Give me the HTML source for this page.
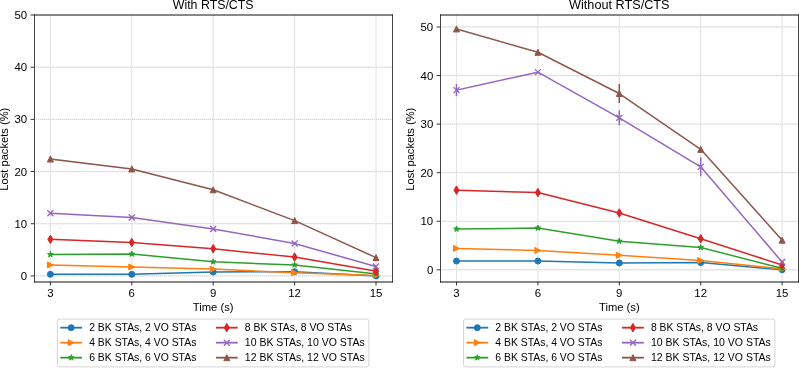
<!DOCTYPE html>
<html><head><meta charset="utf-8"><title>Lost packets: With / Without RTS/CTS</title><style>
html,body{margin:0;padding:0;background:#fff;overflow:hidden}
svg{display:block;will-change:transform}
text{font-family:"Liberation Sans",sans-serif;fill:#000}
</style></head><body>
<svg width="799" height="368" viewBox="0 0 799 368">
<rect width="799" height="368" fill="#fff"/>
<path d="M50.38 15V282M131.79 15V282M213.2 15V282M294.61 15V282M376.02 15V282" fill="none" stroke="#f0f0f0" stroke-width="1.2"/>
<path d="M50.38 15V282M131.79 15V282M213.2 15V282M294.61 15V282M376.02 15V282" fill="none" stroke="#dadada" stroke-width="1" stroke-dasharray="1 1"/>
<path d="M34.1 275.9H392.3M34.1 223.72H392.3M34.1 171.54H392.3M34.1 119.36H392.3M34.1 67.18H392.3" fill="none" stroke="#f0f0f0" stroke-width="1.2"/>
<path d="M34.1 275.9H392.3M34.1 223.72H392.3M34.1 171.54H392.3M34.1 119.36H392.3M34.1 67.18H392.3" fill="none" stroke="#d0d0d0" stroke-width="1" stroke-dasharray="1 1"/>
<polyline points="50.38,274.33 131.79,274.33 213.2,271.98 294.61,271.72 376.02,275.9" fill="none" stroke="#1f77b4" stroke-width="1.5" stroke-linejoin="round" stroke-linecap="square"/>
<circle cx="50.38" cy="274.33" r="3" fill="#1f77b4" stroke="#1f77b4" stroke-width="1.0"/>
<circle cx="131.79" cy="274.33" r="3" fill="#1f77b4" stroke="#1f77b4" stroke-width="1.0"/>
<circle cx="213.2" cy="271.98" r="3" fill="#1f77b4" stroke="#1f77b4" stroke-width="1.0"/>
<circle cx="294.61" cy="271.72" r="3" fill="#1f77b4" stroke="#1f77b4" stroke-width="1.0"/>
<circle cx="376.02" cy="275.9" r="3" fill="#1f77b4" stroke="#1f77b4" stroke-width="1.0"/>
<polyline points="50.38,264.94 131.79,267.02 213.2,269.11 294.61,272.76 376.02,275.37" fill="none" stroke="#ff7f0e" stroke-width="1.5" stroke-linejoin="round" stroke-linecap="square"/>
<path d="M53.38 264.94L47.38 261.94L47.38 267.94Z" fill="#ff7f0e" stroke="#ff7f0e" stroke-width="1.0" stroke-linejoin="miter"/>
<path d="M134.79 267.02L128.79 264.02L128.79 270.02Z" fill="#ff7f0e" stroke="#ff7f0e" stroke-width="1.0" stroke-linejoin="miter"/>
<path d="M216.2 269.11L210.2 266.11L210.2 272.11Z" fill="#ff7f0e" stroke="#ff7f0e" stroke-width="1.0" stroke-linejoin="miter"/>
<path d="M297.61 272.76L291.61 269.76L291.61 275.76Z" fill="#ff7f0e" stroke="#ff7f0e" stroke-width="1.0" stroke-linejoin="miter"/>
<path d="M379.02 275.37L373.02 272.37L373.02 278.37Z" fill="#ff7f0e" stroke="#ff7f0e" stroke-width="1.0" stroke-linejoin="miter"/>
<polyline points="50.38,254.5 131.79,253.98 213.2,261.81 294.61,264.94 376.02,273.81" fill="none" stroke="#2ca02c" stroke-width="1.5" stroke-linejoin="round" stroke-linecap="square"/>
<path d="M50.38 251.5L49.71 253.57L47.53 253.57L49.29 254.86L48.62 256.93L50.38 255.65L52.15 256.93L51.47 254.86L53.23 253.57L51.06 253.57Z" fill="#2ca02c" stroke="#2ca02c" stroke-width="1.0" stroke-linejoin="bevel"/>
<path d="M131.79 250.98L131.12 253.05L128.94 253.05L130.7 254.33L130.03 256.41L131.79 255.13L133.55 256.41L132.88 254.33L134.64 253.05L132.46 253.05Z" fill="#2ca02c" stroke="#2ca02c" stroke-width="1.0" stroke-linejoin="bevel"/>
<path d="M213.2 258.81L212.53 260.88L210.35 260.88L212.11 262.16L211.44 264.23L213.2 262.95L214.96 264.23L214.29 262.16L216.05 260.88L213.87 260.88Z" fill="#2ca02c" stroke="#2ca02c" stroke-width="1.0" stroke-linejoin="bevel"/>
<path d="M294.61 261.94L293.94 264.01L291.76 264.01L293.52 265.29L292.85 267.36L294.61 266.08L296.37 267.36L295.7 265.29L297.46 264.01L295.28 264.01Z" fill="#2ca02c" stroke="#2ca02c" stroke-width="1.0" stroke-linejoin="bevel"/>
<path d="M376.02 270.81L375.34 272.88L373.17 272.88L374.93 274.16L374.25 276.23L376.02 274.95L377.78 276.23L377.11 274.16L378.87 272.88L376.69 272.88Z" fill="#2ca02c" stroke="#2ca02c" stroke-width="1.0" stroke-linejoin="bevel"/>
<polyline points="50.38,239.37 131.79,242.5 213.2,248.76 294.61,257.11 376.02,271.2" fill="none" stroke="#d62728" stroke-width="1.5" stroke-linejoin="round" stroke-linecap="square"/>
<path d="M50.38 243.61L52.93 239.37L50.38 235.13L47.84 239.37Z" fill="#d62728" stroke="#d62728" stroke-width="1.0" stroke-linejoin="miter"/>
<path d="M131.79 246.74L134.34 242.5L131.79 238.26L129.25 242.5Z" fill="#d62728" stroke="#d62728" stroke-width="1.0" stroke-linejoin="miter"/>
<path d="M213.2 253L215.75 248.76L213.2 244.52L210.65 248.76Z" fill="#d62728" stroke="#d62728" stroke-width="1.0" stroke-linejoin="miter"/>
<path d="M294.61 261.35L297.15 257.11L294.61 252.87L292.06 257.11Z" fill="#d62728" stroke="#d62728" stroke-width="1.0" stroke-linejoin="miter"/>
<path d="M376.02 275.44L378.56 271.2L376.02 266.96L373.47 271.2Z" fill="#d62728" stroke="#d62728" stroke-width="1.0" stroke-linejoin="miter"/>
<polyline points="50.38,213.28 131.79,217.45 213.2,228.93 294.61,243.54 376.02,266.5" fill="none" stroke="#9467bd" stroke-width="1.5" stroke-linejoin="round" stroke-linecap="square"/>
<path d="M47.38 216.28L53.38 210.28M47.38 210.28L53.38 216.28" fill="none" stroke="#9467bd" stroke-width="1.3" stroke-linecap="butt"/>
<path d="M128.79 220.45L134.79 214.45M128.79 214.45L134.79 220.45" fill="none" stroke="#9467bd" stroke-width="1.3" stroke-linecap="butt"/>
<path d="M210.2 231.93L216.2 225.93M210.2 225.93L216.2 231.93" fill="none" stroke="#9467bd" stroke-width="1.3" stroke-linecap="butt"/>
<path d="M291.61 246.54L297.61 240.54M291.61 240.54L297.61 246.54" fill="none" stroke="#9467bd" stroke-width="1.3" stroke-linecap="butt"/>
<path d="M373.02 269.5L379.02 263.5M373.02 263.5L379.02 269.5" fill="none" stroke="#9467bd" stroke-width="1.3" stroke-linecap="butt"/>
<polyline points="50.38,159.01 131.79,168.93 213.2,189.8 294.61,220.59 376.02,257.63" fill="none" stroke="#8c564b" stroke-width="1.5" stroke-linejoin="round" stroke-linecap="square"/>
<path d="M50.38 156.01L47.38 162.01L53.38 162.01Z" fill="#8c564b" stroke="#8c564b" stroke-width="1.0" stroke-linejoin="miter"/>
<path d="M131.79 165.93L128.79 171.93L134.79 171.93Z" fill="#8c564b" stroke="#8c564b" stroke-width="1.0" stroke-linejoin="miter"/>
<path d="M213.2 186.8L210.2 192.8L216.2 192.8Z" fill="#8c564b" stroke="#8c564b" stroke-width="1.0" stroke-linejoin="miter"/>
<path d="M294.61 217.59L291.61 223.59L297.61 223.59Z" fill="#8c564b" stroke="#8c564b" stroke-width="1.0" stroke-linejoin="miter"/>
<path d="M376.02 254.63L373.02 260.63L379.02 260.63Z" fill="#8c564b" stroke="#8c564b" stroke-width="1.0" stroke-linejoin="miter"/>
<path d="M34.5 14.5V282.5M392.5 14.5V282.5" fill="none" stroke="#444" stroke-width="1"/>
<path d="M34 15H393M34 282H393" fill="none" stroke="#111" stroke-width="1"/>
<path d="M50.38 282v3.5M131.79 282v3.5M213.2 282v3.5M294.61 282v3.5M376.02 282v3.5M34.1 275.9h-3.5M34.1 223.72h-3.5M34.1 171.54h-3.5M34.1 119.36h-3.5M34.1 67.18h-3.5M34.1 15h-3.5" stroke="#000" stroke-width="0.8" fill="none"/>
<text x="50.38" y="297" text-anchor="middle" font-size="10.18" textLength="6.36" lengthAdjust="spacingAndGlyphs">3</text>
<text x="131.79" y="297" text-anchor="middle" font-size="10.18" textLength="6.36" lengthAdjust="spacingAndGlyphs">6</text>
<text x="213.2" y="297" text-anchor="middle" font-size="10.18" textLength="6.36" lengthAdjust="spacingAndGlyphs">9</text>
<text x="294.61" y="297" text-anchor="middle" font-size="10.18" textLength="12.72" lengthAdjust="spacingAndGlyphs">12</text>
<text x="376.02" y="297" text-anchor="middle" font-size="10.18" textLength="12.72" lengthAdjust="spacingAndGlyphs">15</text>
<text x="23.98" y="279.9" text-anchor="middle" font-size="10.18" textLength="6.36" lengthAdjust="spacingAndGlyphs">0</text>
<text x="20.79" y="227.72" text-anchor="middle" font-size="10.18" textLength="12.72" lengthAdjust="spacingAndGlyphs">10</text>
<text x="20.79" y="175.54" text-anchor="middle" font-size="10.18" textLength="12.72" lengthAdjust="spacingAndGlyphs">20</text>
<text x="20.85" y="123.36" text-anchor="middle" font-size="10.18" textLength="12.72" lengthAdjust="spacingAndGlyphs">30</text>
<text x="20.85" y="71.18" text-anchor="middle" font-size="10.18" textLength="12.72" lengthAdjust="spacingAndGlyphs">40</text>
<text x="20.79" y="19" text-anchor="middle" font-size="10.18" textLength="12.72" lengthAdjust="spacingAndGlyphs">50</text>
<text x="213.2" y="9" text-anchor="middle" font-size="12.22" textLength="80.84" lengthAdjust="spacingAndGlyphs">With RTS/CTS</text>
<text x="213.2" y="311" text-anchor="middle" font-size="10.18" textLength="40.66" lengthAdjust="spacingAndGlyphs">Time (s)</text>
<text transform="translate(8.28,149.2) rotate(-90)" text-anchor="middle" font-size="10.18" textLength="83" lengthAdjust="spacingAndGlyphs">Lost packets (%)</text>
<rect x="57.4" y="319.08" width="311.4" height="47.8" rx="2" fill="#fff" fill-opacity="0.8" stroke="#ccc" stroke-opacity="0.8" stroke-width="1"/>
<path d="M61.2 327.68H81.2" stroke="#1f77b4" stroke-width="1.8" stroke-linecap="square"/>
<circle cx="71.2" cy="327.68" r="3" fill="#1f77b4" stroke="#1f77b4" stroke-width="1.0"/>
<path d="M61.2 342.68H81.2" stroke="#ff7f0e" stroke-width="1.8" stroke-linecap="square"/>
<path d="M74.2 342.68L68.2 339.68L68.2 345.68Z" fill="#ff7f0e" stroke="#ff7f0e" stroke-width="1.0" stroke-linejoin="miter"/>
<path d="M61.2 357.68H81.2" stroke="#2ca02c" stroke-width="1.8" stroke-linecap="square"/>
<path d="M71.2 354.68L70.53 356.75L68.35 356.75L70.11 358.03L69.44 360.11L71.2 358.83L72.96 360.11L72.29 358.03L74.05 356.75L71.87 356.75Z" fill="#2ca02c" stroke="#2ca02c" stroke-width="1.0" stroke-linejoin="bevel"/>
<path d="M216.82 327.68H236.82" stroke="#d62728" stroke-width="1.8" stroke-linecap="square"/>
<path d="M226.82 331.92L229.37 327.68L226.82 323.44L224.28 327.68Z" fill="#d62728" stroke="#d62728" stroke-width="1.0" stroke-linejoin="miter"/>
<path d="M216.82 342.68H236.82" stroke="#9467bd" stroke-width="1.8" stroke-linecap="square"/>
<path d="M223.82 345.68L229.82 339.68M223.82 339.68L229.82 345.68" fill="none" stroke="#9467bd" stroke-width="1.3" stroke-linecap="butt"/>
<path d="M216.82 357.68H236.82" stroke="#8c564b" stroke-width="1.8" stroke-linecap="square"/>
<path d="M226.82 354.68L223.82 360.68L229.82 360.68Z" fill="#8c564b" stroke="#8c564b" stroke-width="1.0" stroke-linejoin="miter"/>
<text x="89.2" y="331.18" font-size="10.18" textLength="107.16" lengthAdjust="spacingAndGlyphs">2 BK STAs, 2 VO STAs</text>
<text x="89.2" y="346.18" font-size="10.18" textLength="107.16" lengthAdjust="spacingAndGlyphs">4 BK STAs, 4 VO STAs</text>
<text x="89.2" y="361.18" font-size="10.18" textLength="107.16" lengthAdjust="spacingAndGlyphs">6 BK STAs, 6 VO STAs</text>
<text x="244.82" y="331.18" font-size="10.18" textLength="107.16" lengthAdjust="spacingAndGlyphs">8 BK STAs, 8 VO STAs</text>
<text x="244.82" y="346.18" font-size="10.18" textLength="119.88" lengthAdjust="spacingAndGlyphs">10 BK STAs, 10 VO STAs</text>
<text x="244.82" y="361.18" font-size="10.18" textLength="119.88" lengthAdjust="spacingAndGlyphs">12 BK STAs, 12 VO STAs</text>
<path d="M456.48 15V282M537.89 15V282M619.3 15V282M700.71 15V282M782.12 15V282" fill="none" stroke="#f0f0f0" stroke-width="1.2"/>
<path d="M456.48 15V282M537.89 15V282M619.3 15V282M700.71 15V282M782.12 15V282" fill="none" stroke="#dadada" stroke-width="1" stroke-dasharray="1 1"/>
<path d="M440.2 269.81H798.4M440.2 221.25H798.4M440.2 172.68H798.4M440.2 124.12H798.4M440.2 75.56H798.4M440.2 27H798.4" fill="none" stroke="#f0f0f0" stroke-width="1.2"/>
<path d="M440.2 269.81H798.4M440.2 221.25H798.4M440.2 172.68H798.4M440.2 124.12H798.4M440.2 75.56H798.4M440.2 27H798.4" fill="none" stroke="#d0d0d0" stroke-width="1" stroke-dasharray="1 1"/>
<polyline points="456.48,261.07 537.89,261.07 619.3,263.01 700.71,262.53 782.12,269.81" fill="none" stroke="#1f77b4" stroke-width="1.5" stroke-linejoin="round" stroke-linecap="square"/>
<circle cx="456.48" cy="261.07" r="3" fill="#1f77b4" stroke="#1f77b4" stroke-width="1.0"/>
<circle cx="537.89" cy="261.07" r="3" fill="#1f77b4" stroke="#1f77b4" stroke-width="1.0"/>
<circle cx="619.3" cy="263.01" r="3" fill="#1f77b4" stroke="#1f77b4" stroke-width="1.0"/>
<circle cx="700.71" cy="262.53" r="3" fill="#1f77b4" stroke="#1f77b4" stroke-width="1.0"/>
<circle cx="782.12" cy="269.81" r="3" fill="#1f77b4" stroke="#1f77b4" stroke-width="1.0"/>
<polyline points="456.48,248.44 537.89,250.39 619.3,255.24 700.71,260.58 782.12,268.84" fill="none" stroke="#ff7f0e" stroke-width="1.5" stroke-linejoin="round" stroke-linecap="square"/>
<path d="M459.48 248.44L453.48 245.44L453.48 251.44Z" fill="#ff7f0e" stroke="#ff7f0e" stroke-width="1.0" stroke-linejoin="miter"/>
<path d="M540.89 250.39L534.89 247.39L534.89 253.39Z" fill="#ff7f0e" stroke="#ff7f0e" stroke-width="1.0" stroke-linejoin="miter"/>
<path d="M622.3 255.24L616.3 252.24L616.3 258.24Z" fill="#ff7f0e" stroke="#ff7f0e" stroke-width="1.0" stroke-linejoin="miter"/>
<path d="M703.71 260.58L697.71 257.58L697.71 263.58Z" fill="#ff7f0e" stroke="#ff7f0e" stroke-width="1.0" stroke-linejoin="miter"/>
<path d="M785.12 268.84L779.12 265.84L779.12 271.84Z" fill="#ff7f0e" stroke="#ff7f0e" stroke-width="1.0" stroke-linejoin="miter"/>
<polyline points="456.48,229.02 537.89,228.05 619.3,241.16 700.71,247.47 782.12,268.35" fill="none" stroke="#2ca02c" stroke-width="1.5" stroke-linejoin="round" stroke-linecap="square"/>
<path d="M456.48 226.02L455.81 228.09L453.63 228.09L455.39 229.37L454.72 231.44L456.48 230.16L458.25 231.44L457.57 229.37L459.33 228.09L457.16 228.09Z" fill="#2ca02c" stroke="#2ca02c" stroke-width="1.0" stroke-linejoin="bevel"/>
<path d="M537.89 225.05L537.22 227.12L535.04 227.12L536.8 228.4L536.13 230.47L537.89 229.19L539.65 230.47L538.98 228.4L540.74 227.12L538.56 227.12Z" fill="#2ca02c" stroke="#2ca02c" stroke-width="1.0" stroke-linejoin="bevel"/>
<path d="M619.3 238.16L618.63 240.23L616.45 240.23L618.21 241.51L617.54 243.59L619.3 242.3L621.06 243.59L620.39 241.51L622.15 240.23L619.97 240.23Z" fill="#2ca02c" stroke="#2ca02c" stroke-width="1.0" stroke-linejoin="bevel"/>
<path d="M700.71 244.47L700.04 246.54L697.86 246.54L699.62 247.83L698.95 249.9L700.71 248.62L702.47 249.9L701.8 247.83L703.56 246.54L701.38 246.54Z" fill="#2ca02c" stroke="#2ca02c" stroke-width="1.0" stroke-linejoin="bevel"/>
<path d="M782.12 265.35L781.44 267.43L779.27 267.43L781.03 268.71L780.35 270.78L782.12 269.5L783.88 270.78L783.21 268.71L784.97 267.43L782.79 267.43Z" fill="#2ca02c" stroke="#2ca02c" stroke-width="1.0" stroke-linejoin="bevel"/>
<polyline points="456.48,190.17 537.89,192.6 619.3,212.99 700.71,238.73 782.12,264.95" fill="none" stroke="#d62728" stroke-width="1.5" stroke-linejoin="round" stroke-linecap="square"/>
<path d="M456.48 194.41L459.03 190.17L456.48 185.92L453.94 190.17Z" fill="#d62728" stroke="#d62728" stroke-width="1.0" stroke-linejoin="miter"/>
<path d="M537.89 196.84L540.44 192.6L537.89 188.35L535.35 192.6Z" fill="#d62728" stroke="#d62728" stroke-width="1.0" stroke-linejoin="miter"/>
<path d="M619.3 217.23L621.85 212.99L619.3 208.75L616.75 212.99Z" fill="#d62728" stroke="#d62728" stroke-width="1.0" stroke-linejoin="miter"/>
<path d="M700.71 242.97L703.25 238.73L700.71 234.49L698.16 238.73Z" fill="#d62728" stroke="#d62728" stroke-width="1.0" stroke-linejoin="miter"/>
<path d="M782.12 269.2L784.66 264.95L782.12 260.71L779.57 264.95Z" fill="#d62728" stroke="#d62728" stroke-width="1.0" stroke-linejoin="miter"/>
<polyline points="456.48,90.13 537.89,72.16 619.3,117.81 700.71,166.86 782.12,262.04" fill="none" stroke="#9467bd" stroke-width="1.5" stroke-linejoin="round" stroke-linecap="square"/>
<path d="M453.48 93.13L459.48 87.13M453.48 87.13L459.48 93.13" fill="none" stroke="#9467bd" stroke-width="1.3" stroke-linecap="butt"/>
<path d="M534.89 75.16L540.89 69.16M534.89 69.16L540.89 75.16" fill="none" stroke="#9467bd" stroke-width="1.3" stroke-linecap="butt"/>
<path d="M616.3 120.81L622.3 114.81M616.3 114.81L622.3 120.81" fill="none" stroke="#9467bd" stroke-width="1.3" stroke-linecap="butt"/>
<path d="M697.71 169.86L703.71 163.86M697.71 163.86L703.71 169.86" fill="none" stroke="#9467bd" stroke-width="1.3" stroke-linecap="butt"/>
<path d="M779.12 265.04L785.12 259.04M779.12 259.04L785.12 265.04" fill="none" stroke="#9467bd" stroke-width="1.3" stroke-linecap="butt"/>
<path d="M456.48 95.47L456.48 84.79M619.3 124.46L619.3 111.15M700.71 175.6L700.71 158.12" stroke="#9467bd" stroke-width="1.5" stroke-linecap="square" fill="none"/>
<polyline points="456.48,28.94 537.89,52.25 619.3,93.53 700.71,149.37 782.12,240.19" fill="none" stroke="#8c564b" stroke-width="1.5" stroke-linejoin="round" stroke-linecap="square"/>
<path d="M456.48 25.94L453.48 31.94L459.48 31.94Z" fill="#8c564b" stroke="#8c564b" stroke-width="1.0" stroke-linejoin="miter"/>
<path d="M537.89 49.25L534.89 55.25L540.89 55.25Z" fill="#8c564b" stroke="#8c564b" stroke-width="1.0" stroke-linejoin="miter"/>
<path d="M619.3 90.53L616.3 96.53L622.3 96.53Z" fill="#8c564b" stroke="#8c564b" stroke-width="1.0" stroke-linejoin="miter"/>
<path d="M700.71 146.37L697.71 152.37L703.71 152.37Z" fill="#8c564b" stroke="#8c564b" stroke-width="1.0" stroke-linejoin="miter"/>
<path d="M782.12 237.19L779.12 243.19L785.12 243.19Z" fill="#8c564b" stroke="#8c564b" stroke-width="1.0" stroke-linejoin="miter"/>
<path d="M619.3 102.27L619.3 84.79" stroke="#8c564b" stroke-width="1.5" stroke-linecap="square" fill="none"/>
<path d="M440.5 14.5V282.5M798.5 14.5V282.5" fill="none" stroke="#444" stroke-width="1"/>
<path d="M440 15H799M440 282H799" fill="none" stroke="#111" stroke-width="1"/>
<path d="M456.48 282v3.5M537.89 282v3.5M619.3 282v3.5M700.71 282v3.5M782.12 282v3.5M440.2 269.81h-3.5M440.2 221.25h-3.5M440.2 172.68h-3.5M440.2 124.12h-3.5M440.2 75.56h-3.5M440.2 27h-3.5" stroke="#000" stroke-width="0.8" fill="none"/>
<text x="456.48" y="297" text-anchor="middle" font-size="10.18" textLength="6.36" lengthAdjust="spacingAndGlyphs">3</text>
<text x="537.89" y="297" text-anchor="middle" font-size="10.18" textLength="6.36" lengthAdjust="spacingAndGlyphs">6</text>
<text x="619.3" y="297" text-anchor="middle" font-size="10.18" textLength="6.36" lengthAdjust="spacingAndGlyphs">9</text>
<text x="700.71" y="297" text-anchor="middle" font-size="10.18" textLength="12.72" lengthAdjust="spacingAndGlyphs">12</text>
<text x="782.12" y="297" text-anchor="middle" font-size="10.18" textLength="12.72" lengthAdjust="spacingAndGlyphs">15</text>
<text x="430.08" y="273.81" text-anchor="middle" font-size="10.18" textLength="6.36" lengthAdjust="spacingAndGlyphs">0</text>
<text x="426.89" y="225.25" text-anchor="middle" font-size="10.18" textLength="12.72" lengthAdjust="spacingAndGlyphs">10</text>
<text x="426.89" y="176.68" text-anchor="middle" font-size="10.18" textLength="12.72" lengthAdjust="spacingAndGlyphs">20</text>
<text x="426.95" y="128.12" text-anchor="middle" font-size="10.18" textLength="12.72" lengthAdjust="spacingAndGlyphs">30</text>
<text x="426.95" y="79.56" text-anchor="middle" font-size="10.18" textLength="12.72" lengthAdjust="spacingAndGlyphs">40</text>
<text x="426.89" y="31" text-anchor="middle" font-size="10.18" textLength="12.72" lengthAdjust="spacingAndGlyphs">50</text>
<text x="619.3" y="9" text-anchor="middle" font-size="12.22" textLength="100.5" lengthAdjust="spacingAndGlyphs">Without RTS/CTS</text>
<text x="619.3" y="311" text-anchor="middle" font-size="10.18" textLength="40.66" lengthAdjust="spacingAndGlyphs">Time (s)</text>
<text transform="translate(414.38,149.2) rotate(-90)" text-anchor="middle" font-size="10.18" textLength="83" lengthAdjust="spacingAndGlyphs">Lost packets (%)</text>
<rect x="463.5" y="319.08" width="311.4" height="47.8" rx="2" fill="#fff" fill-opacity="0.8" stroke="#ccc" stroke-opacity="0.8" stroke-width="1"/>
<path d="M467.3 327.68H487.3" stroke="#1f77b4" stroke-width="1.8" stroke-linecap="square"/>
<circle cx="477.3" cy="327.68" r="3" fill="#1f77b4" stroke="#1f77b4" stroke-width="1.0"/>
<path d="M467.3 342.68H487.3" stroke="#ff7f0e" stroke-width="1.8" stroke-linecap="square"/>
<path d="M480.3 342.68L474.3 339.68L474.3 345.68Z" fill="#ff7f0e" stroke="#ff7f0e" stroke-width="1.0" stroke-linejoin="miter"/>
<path d="M467.3 357.68H487.3" stroke="#2ca02c" stroke-width="1.8" stroke-linecap="square"/>
<path d="M477.3 354.68L476.63 356.75L474.45 356.75L476.21 358.03L475.54 360.11L477.3 358.83L479.06 360.11L478.39 358.03L480.15 356.75L477.97 356.75Z" fill="#2ca02c" stroke="#2ca02c" stroke-width="1.0" stroke-linejoin="bevel"/>
<path d="M622.92 327.68H642.92" stroke="#d62728" stroke-width="1.8" stroke-linecap="square"/>
<path d="M632.92 331.92L635.47 327.68L632.92 323.44L630.38 327.68Z" fill="#d62728" stroke="#d62728" stroke-width="1.0" stroke-linejoin="miter"/>
<path d="M622.92 342.68H642.92" stroke="#9467bd" stroke-width="1.8" stroke-linecap="square"/>
<path d="M629.92 345.68L635.92 339.68M629.92 339.68L635.92 345.68" fill="none" stroke="#9467bd" stroke-width="1.3" stroke-linecap="butt"/>
<path d="M622.92 357.68H642.92" stroke="#8c564b" stroke-width="1.8" stroke-linecap="square"/>
<path d="M632.92 354.68L629.92 360.68L635.92 360.68Z" fill="#8c564b" stroke="#8c564b" stroke-width="1.0" stroke-linejoin="miter"/>
<text x="495.3" y="331.18" font-size="10.18" textLength="107.16" lengthAdjust="spacingAndGlyphs">2 BK STAs, 2 VO STAs</text>
<text x="495.3" y="346.18" font-size="10.18" textLength="107.16" lengthAdjust="spacingAndGlyphs">4 BK STAs, 4 VO STAs</text>
<text x="495.3" y="361.18" font-size="10.18" textLength="107.16" lengthAdjust="spacingAndGlyphs">6 BK STAs, 6 VO STAs</text>
<text x="650.92" y="331.18" font-size="10.18" textLength="107.16" lengthAdjust="spacingAndGlyphs">8 BK STAs, 8 VO STAs</text>
<text x="650.92" y="346.18" font-size="10.18" textLength="119.88" lengthAdjust="spacingAndGlyphs">10 BK STAs, 10 VO STAs</text>
<text x="650.92" y="361.18" font-size="10.18" textLength="119.88" lengthAdjust="spacingAndGlyphs">12 BK STAs, 12 VO STAs</text>
</svg>
</body></html>
